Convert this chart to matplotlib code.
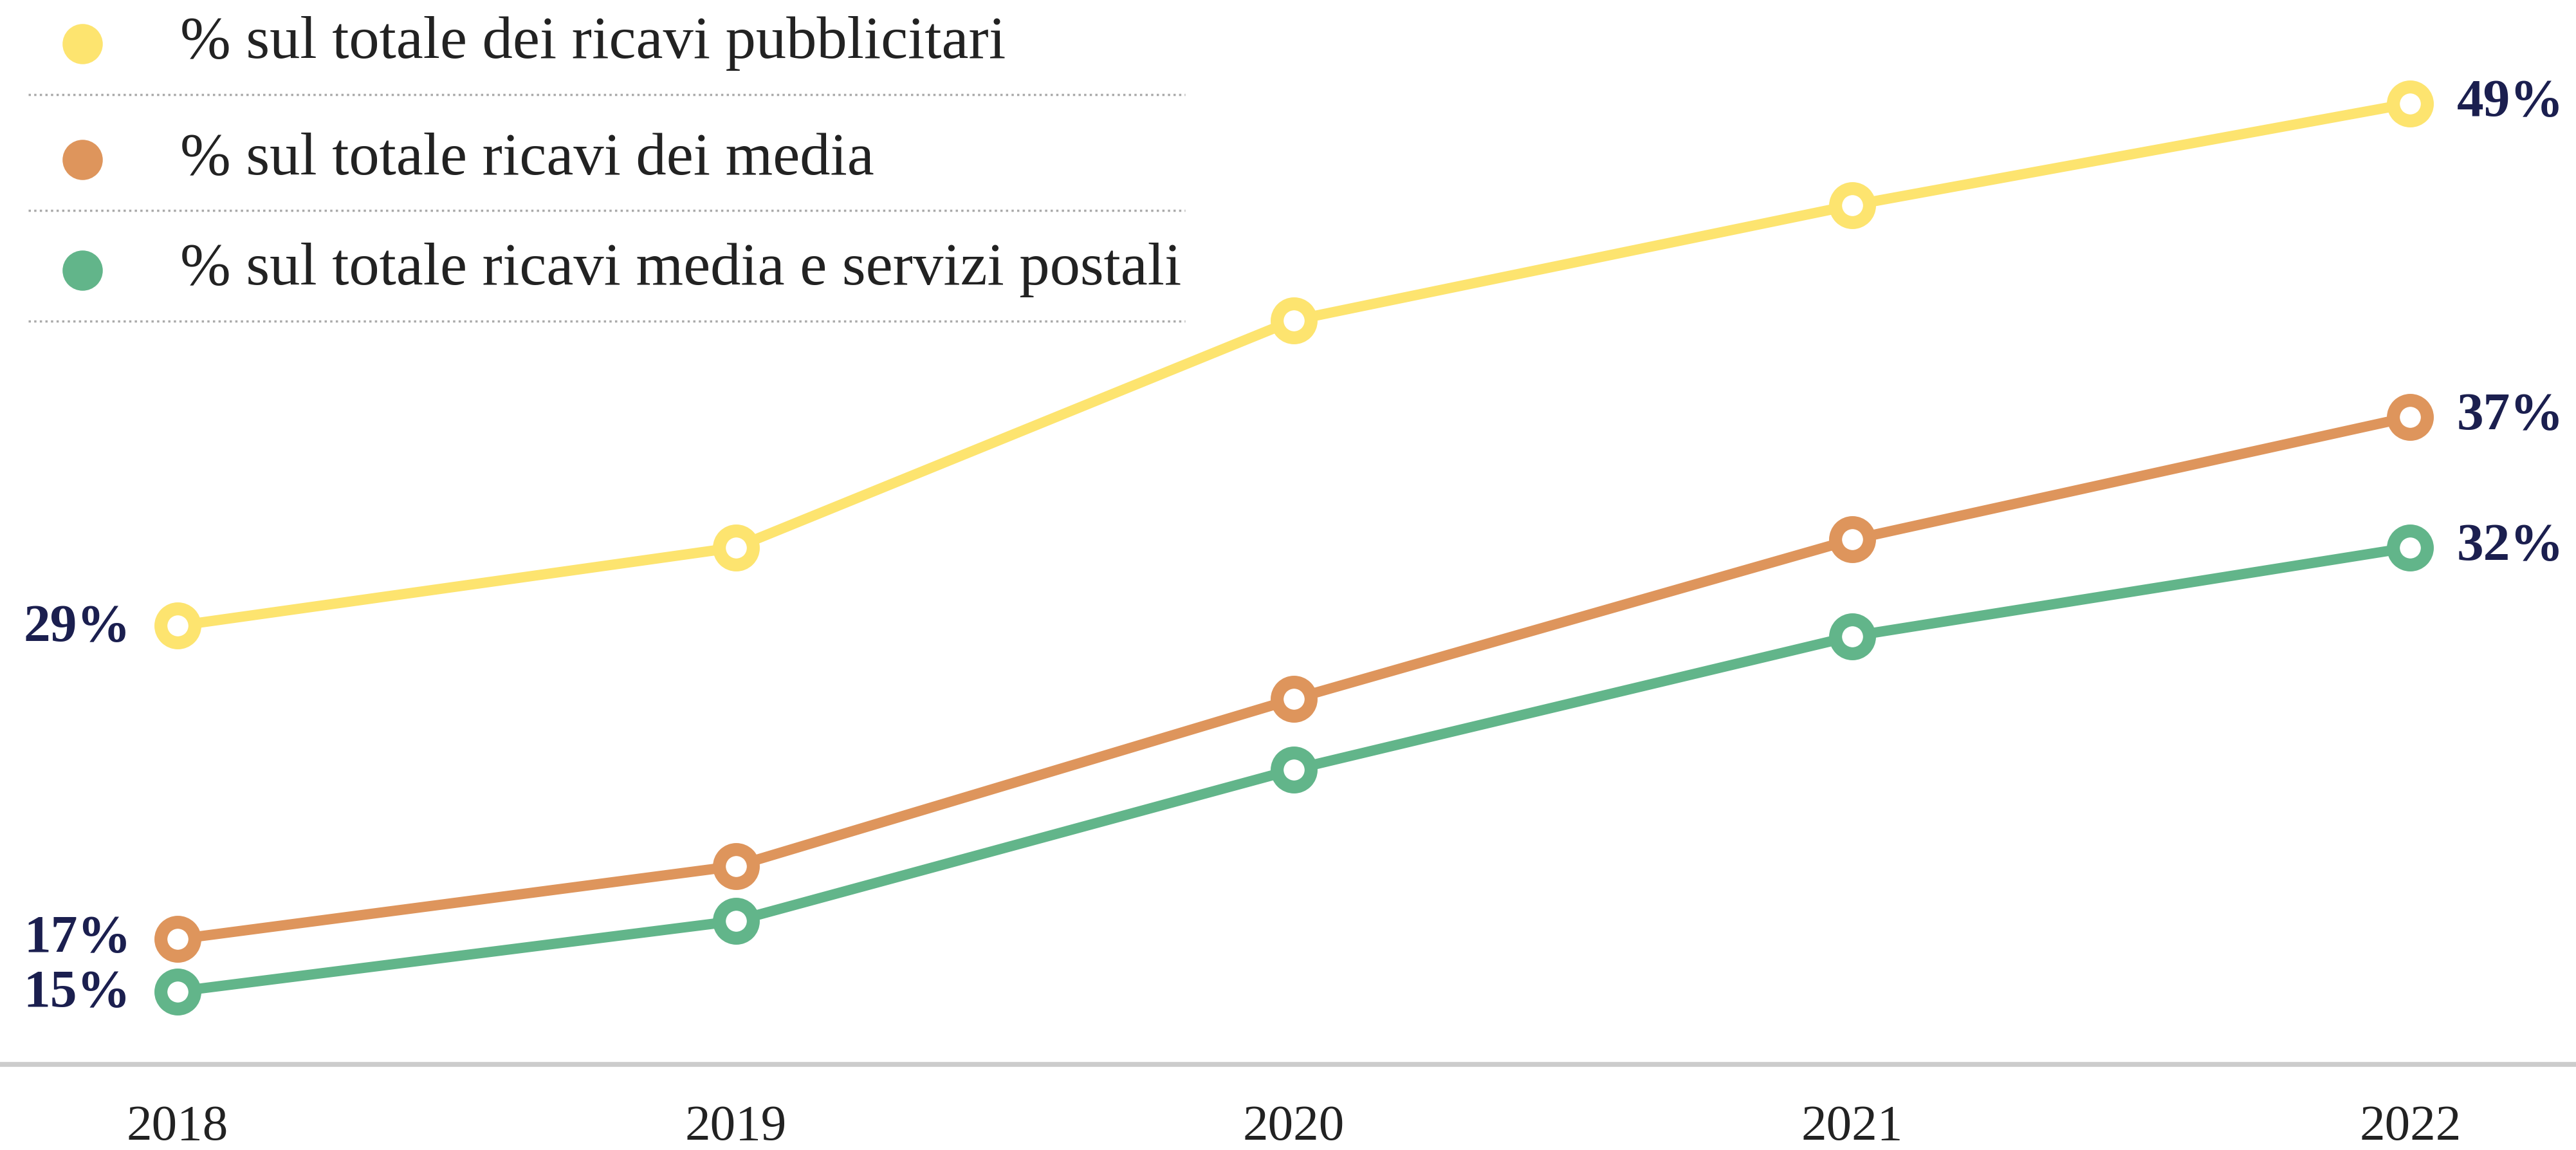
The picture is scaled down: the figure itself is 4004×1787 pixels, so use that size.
import matplotlib.pyplot as plt
from matplotlib.lines import Line2D

years = [2018, 2019, 2020, 2021, 2022]
pubblicitari = [29, 32, 40.7, 45.1, 49]
media = [17, 19.8, 26.2, 32.3, 37]
postali = [15, 17.7, 23.5, 28.6, 32]

names = ['% sul totale dei ricavi pubblicitari',
         '% sul totale ricavi dei media',
         '% sul totale ricavi media e servizi postali']
colors = ['#FDE46F', '#DE955C', '#62B58A']
series = [pubblicitari, media, postali]

navy = '#1B1F4F'
plt.rcParams['font.family'] = ['Liberation Serif', 'DejaVu Serif']

fig = plt.figure(figsize=(40.04, 17.87), dpi=100)
ax = fig.add_axes([0, 0.0743, 1, 0.9257])

for vals, c in zip(series, colors):
    ax.plot(years, vals, color=c, lw=11.5, marker='o', ms=38,
            mfc='white', mec=c, mew=14.5, zorder=3)

# value labels at the ends
for vals in series:
    ax.annotate(f'{vals[-1]:.0f}%', (years[-1], vals[-1]), xytext=(52, 0),
                textcoords='offset points', ha='left', va='center',
                fontsize=60, fontweight='bold', color=navy)
left_off = [-3, 0, -3]
for vals, dy in zip(series, left_off):
    ax.annotate(f'{vals[0]:.0f}%', (years[0], vals[0]), xytext=(-52, dy),
                textcoords='offset points', ha='right', va='center',
                fontsize=60, fontweight='bold', color=navy)

ax.set_xlim(2017.682, 2022.297)
ax.set_ylim(12.2, 52.96)
ax.set_xticks(years)
ax.set_xticklabels([str(y) for y in years], fontsize=57, color='#222222')
ax.set_yticks([])
ax.tick_params(axis='x', length=0, pad=45)
for s in ['top', 'right', 'left']:
    ax.spines[s].set_visible(False)
ax.spines['bottom'].set_color('#cccccc')
ax.spines['bottom'].set_linewidth(5.5)
ax.patch.set_alpha(0)

# legend drawn by hand with dotted separators
leg_y = [0.962, 0.861, 0.765]
for name, c, yy in zip(names, colors, leg_y):
    fig.add_artist(Line2D([0.032], [yy], marker='o', ms=44, color=c,
                          mec=c, transform=fig.transFigure))
    fig.text(0.070, yy, name, fontsize=68, color='#222222', va='center')
    fig.add_artist(Line2D([0.011, 0.46], [yy - 0.044, yy - 0.044],
                          color='#aaaaaa', lw=2.5, ls=(0, (1, 1.5)),
                          transform=fig.transFigure))

fig.savefig('out.png', dpi=100)
